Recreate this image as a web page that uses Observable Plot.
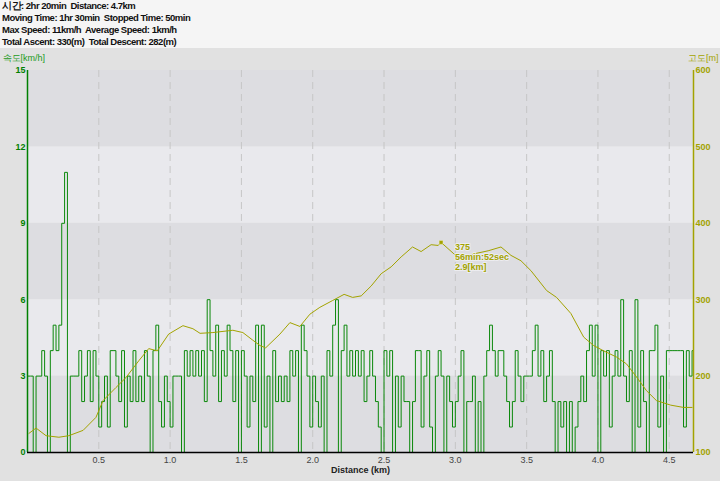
<!DOCTYPE html>
<html><head><meta charset="utf-8">
<script src="https://cdn.jsdelivr.net/npm/d3@7"></script>
<script src="https://cdn.jsdelivr.net/npm/@observablehq/plot@0.6"></script>
<style>
body{margin:0;background:#e1e1e1;width:720px;height:481px;overflow:hidden;font-family:"Liberation Sans",Arial,sans-serif}
#hdr{background:#f5f5f5;height:48px;padding-left:2px;font-size:9.5px;font-weight:bold;line-height:12px;color:#111;white-space:pre;letter-spacing:-0.5px}
#chart svg{display:block}
</style></head><body>
<div id="hdr"></div>
<div id="chart"></div>
<script>
const headerLines = [
  "시간: 2hr 20min  Distance: 4.7km",
  "Moving Time: 1hr 30min  Stopped Time: 50min",
  "Max Speed: 11km/h  Average Speed: 1km/h",
  "Total Ascent: 330(m)  Total Descent: 282(m)"
];
const speedLabel = "속도[km/h]";
const altLabel = "고도[m]";
const xLabel = "Distance (km)";

const sampleStepKm = 0.02;
const speed = [
  3,3,0,3,3,4,3,0,4,5,
  4,5,9,11,0,3,3,3,4,2,
  3,4,2,4,3,1,2,3,1,4,
  4,3,2,4,1,3,2,4,2,3,
  2,4,3,0,4,5,2,1,3,2,
  1,3,3,3,0,4,3,4,3,
  4,3,4,2,6,4,3,5,2,4,
  3,5,4,2,4,0,4,3,1,3,
  2,5,0,5,1,3,0,4,2,3,
  2,3,2,4,3,4,0,5,4,3,
  1,3,2,1,3,0,4,3,5,6,
  0,4,5,3,4,3,4,3,
  4,2,3,4,3,2,1,0,4,3,
  4,0,3,1,3,2,2,0,2,4,
  4,1,3,4,1,0,3,4,3,0,
  3,2,1,2,3,4,0,2,2,3,
  0,2,0,3,4,5,4,3,4,4,
  3,2,1,2,4,3,2,3,
  3,3,4,5,3,4,2,3,4,2,
  0,2,1,2,0,2,0,1,2,3,
  2,4,5,3,5,0,4,3,4,1,
  3,4,3,6,3,2,4,0,6,1,
  4,2,0,4,4,5,1,3,0,4,
  4,4,4,4,4,1,4,3,4
];

const altDist = [0.01,0.06,0.13,0.22,0.29,0.39,0.48,0.53,0.62,0.69,0.78,0.85,0.91,0.99,1.09,1.16,1.21,1.30,1.44,1.51,1.58,1.63,1.67,1.77,1.84,1.91,1.98,2.05,2.14,2.22,2.28,2.34,2.41,2.48,2.55,2.62,2.70,2.76,2.83,2.88,2.90,2.99,3.04,3.13,3.23,3.32,3.39,3.46,3.53,3.64,3.71,3.81,3.90,3.97,4.04,4.13,4.20,4.27,4.34,4.41,4.51,4.60,4.66];
const altValue = [125,132,122,120,122,129,146,168,185,198,220,236,233,255,266,262,256,257,260,257,247,240,237,255,270,265,281,290,299,307,303,305,318,334,343,356,369,363,372,371,375,360,353,360,364,369,358,351,338,312,303,282,251,240,233,225,216,199,181,168,162,159,159];

const speedTicks = [0,3,6,9,12,15];
const altTicks = [100,200,300,400,500,600];
const xTicks = [0.5,1.0,1.5,2.0,2.5,3.0,3.5,4.0,4.5];
const darkBands = [0,6,12];
const lightBands = [3,9];

const peakDist = 2.9, peakAlt = 375, peakTime = "56min:52sec";

const xMax = 4.67;
const altMin = 100, altMax = 600, spMax = 15;
const altToY = a => (a - altMin) / (altMax - altMin) * spMax;
const yToAlt = v => Math.round(v / spMax * (altMax - altMin) + altMin);

const green = "#0a880a", olive = "#a3a300";

document.getElementById("hdr").textContent = headerLines.join("\n");

const speedData = speed.map((v, i) => ({d: i * sampleStepKm, v}));
speedData.push({d: xMax, v: speed[speed.length - 1]});
const altData = altDist.map((d, i) => ({d, a: altValue[i]}));
const peak = [{d: peakDist, a: peakAlt, t: `${peakAlt}\n${peakTime}\n${peakDist}[km]`}];

const chart = Plot.plot({
  width: 720, height: 433,
  marginLeft: 27, marginRight: 27, marginTop: 22, marginBottom: 29,
  style: {background: "transparent", fontFamily: "Liberation Sans, Arial, sans-serif", fontSize: "9px", overflow: "visible"},
  x: {domain: [0, xMax]},
  y: {domain: [0, spMax]},
  marks: [
    Plot.rect(darkBands, {x1: () => 0, x2: () => xMax, y1: d => d, y2: d => d + 3, fill: "#dddde1"}),
    Plot.rect(lightBands, {x1: () => 0, x2: () => xMax, y1: d => d, y2: d => d + 3, fill: "#e9e9ed"}),
    Plot.ruleX(xTicks, {stroke: "#c6c6c6", strokeDasharray: "7,5", strokeWidth: 1}),
    Plot.line(speedData, {x: "d", y: "v", curve: "step-after", stroke: green, strokeWidth: 1}),
    Plot.line(altData, {x: "d", y: d => altToY(d.a), stroke: olive, strokeWidth: 1}),
    Plot.ruleX([0], {stroke: "#008000", strokeWidth: 1.5}),
    Plot.ruleX([xMax], {stroke: olive, strokeWidth: 1.5}),
    Plot.ruleY([0], {stroke: "#000", strokeWidth: 1.5}),
    Plot.axisY(speedTicks, {anchor: "left", tickSize: 0, tickPadding: 2, color: "#008000", fontWeight: "bold", label: null}),
    Plot.axisY(altTicks.map(altToY), {anchor: "right", tickSize: 0, tickPadding: 2, tickFormat: yToAlt, color: olive, fontWeight: "bold", label: null}),
    Plot.axisX(xTicks, {anchor: "bottom", tickSize: 0, tickPadding: 4, tickFormat: d => d.toFixed(1), color: "#444", label: null}),
    Plot.text([xLabel], {frameAnchor: "bottom", dy: 20, fill: "#222", fontWeight: "bold"}),
    Plot.text([speedLabel], {frameAnchor: "top-left", dx: -25, dy: -16, textAnchor: "start", fill: "#1a9a1a"}),
    Plot.text([altLabel], {frameAnchor: "top-right", dx: 25, dy: -16, textAnchor: "end", fill: olive}),
    Plot.dot(peak, {x: "d", y: d => altToY(d.a), symbol: "square", r: 2.2, fill: olive, stroke: "#f0f0c0", strokeWidth: 0.5}),
    Plot.text(peak, {x: "d", y: d => altToY(d.a), text: "t", dx: 14, dy: 1, textAnchor: "start", lineAnchor: "top", lineHeight: 1.1, fill: olive, fontWeight: "bold", stroke: "#ececf0", strokeWidth: 2})
  ]
});
document.getElementById("chart").appendChild(chart);
</script>
</body></html>
